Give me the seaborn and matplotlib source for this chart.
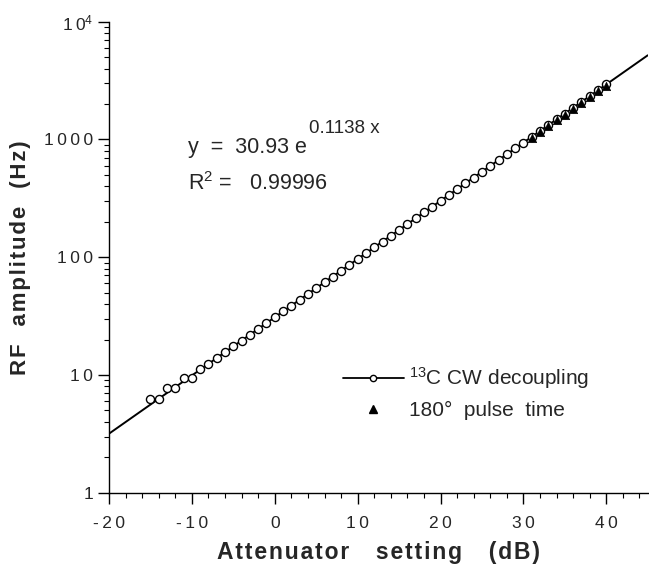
import numpy as np
import pandas as pd
import matplotlib
matplotlib.use("Agg")
import matplotlib.pyplot as plt
from matplotlib.lines import Line2D
from matplotlib.ticker import FixedLocator, MultipleLocator, LogLocator, NullFormatter
import seaborn as sns

# data
cw_atten = list(range(-15, 41))
cw_amp = [6.2, 6.2, 7.7, 7.7, 9.4, 9.4, 11.2, 12.5, 14.0, 15.6, 17.5, 19.6, 22.0, 24.6, 27.6,
          30.9, 34.7, 38.8, 43.5, 48.8, 54.6, 61.2, 68.6, 76.9, 86.1, 96.5, 108, 121, 136, 152,
          171, 191, 214, 240, 269, 301, 338, 378, 424, 475, 532, 596, 668, 749, 839, 940,
          1053, 1180, 1323, 1482, 1661, 1861, 2085, 2337, 2618, 2934]
pulse_atten = list(range(31, 41))
pulse_amp = [1030, 1150, 1290, 1450, 1620, 1820, 2040, 2280, 2560, 2870]

# fitted curve parameters (as printed on the chart)
fit_a = 30.93
fit_b = 0.1138
fit_r2 = 0.99996

y_ticks = [1, 10, 100, 1000, 10000]
y_ticklabels = ["1", "10", "100", "1000", "10$^4$"]
x_ticks = [-20, -10, 0, 10, 20, 30, 40]
x_ticklabels = ["-20", "-10", "0", "10", "20", "30", "40"]


def spaced(s, gap="\u2009"):
    # old typewriter-style letter spacing
    if "$" in s:
        head, tail = s.split("$", 1)
        return gap.join(head) + "$" + tail
    return gap.join(s)


cw = pd.DataFrame({"atten": cw_atten, "amp": cw_amp})
pulse = pd.DataFrame({"atten": pulse_atten, "amp": pulse_amp})
x_fit = np.linspace(-20, 45, 200)
fit = pd.DataFrame({"atten": x_fit, "amp": fit_a * np.exp(fit_b * x_fit)})

sns.set_style("ticks")
plt.rcParams["font.family"] = ["Liberation Sans", "DejaVu Sans"]
plt.rcParams["mathtext.fontset"] = "custom"
plt.rcParams["mathtext.rm"] = "Liberation Sans"
plt.rcParams["mathtext.it"] = "Liberation Sans"

fig = plt.figure(figsize=(6.49, 5.71), dpi=100)
ax = fig.add_axes([0.168, 0.137, 0.830, 0.825])

sns.lineplot(data=fit, x="atten", y="amp", ax=ax, color="black", linewidth=1.4)
sns.scatterplot(data=cw, x="atten", y="amp", ax=ax, marker="o", s=34,
                facecolor="white", edgecolor="black", linewidth=1.0, zorder=3)
sns.scatterplot(data=pulse, x="atten", y="amp", ax=ax, marker="^", s=36,
                color="black", edgecolor="black", linewidth=0.5, zorder=4)

ax.set_yscale("log")
ax.set_xlim(-20, 45)
ax.set_ylim(1, 1e4)
sns.despine(ax=ax)

ax.yaxis.set_major_locator(FixedLocator(y_ticks))
ax.set_yticklabels([spaced(t) for t in y_ticklabels])
ax.yaxis.set_minor_locator(LogLocator(base=10, subs=np.arange(2, 10)))
ax.yaxis.set_minor_formatter(NullFormatter())
ax.xaxis.set_major_locator(FixedLocator(x_ticks))
ax.set_xticklabels([spaced(t) for t in x_ticklabels])
ax.xaxis.set_minor_locator(MultipleLocator(2))
ax.tick_params(axis="both", which="major", labelsize=12.5, length=8, width=1, direction="out", color="black")
ax.tick_params(axis="both", which="minor", length=3.5, width=0.8, direction="out", color="black")
ax.tick_params(axis="x", which="major", pad=9)
for s in ["left", "bottom"]:
    ax.spines[s].set_color("black")
    ax.spines[s].set_linewidth(1.0)

ax.set_xlabel(spaced("Attenuator   setting   (dB)", "\u200a"), fontsize=16.5, fontweight="bold", labelpad=7)
ax.set_ylabel(spaced("RF  amplitude  (Hz)", "\u200a"), fontsize=16, fontweight="bold", labelpad=9)

ax.text(0.147, 0.732, f"y  =  {fit_a} e", transform=ax.transAxes, fontsize=15.5, va="center", ha="left")
ax.text(0.372, 0.774, f"{fit_b} x", transform=ax.transAxes, fontsize=13.5, va="center", ha="left")
ax.text(0.147, 0.656, f"R$^2$ =   {fit_r2}", transform=ax.transAxes, fontsize=15.5, va="center", ha="left")

handles = [
    Line2D([], [], color="black", linewidth=1.3, marker="o", markersize=4.5,
           markerfacecolor="white", markeredgecolor="black"),
    Line2D([], [], color="black", linestyle="none", marker="^", markersize=6),
]
ax.legend(handles, ["$^{13}$C CW decoupling", "180\u00b0  pulse  time"], loc="upper left",
          bbox_to_anchor=(0.40, 0.31), frameon=False, fontsize=15, handlelength=2.9,
          handletextpad=0.25, labelspacing=0.45)

fig.savefig("out.png", dpi=100)
